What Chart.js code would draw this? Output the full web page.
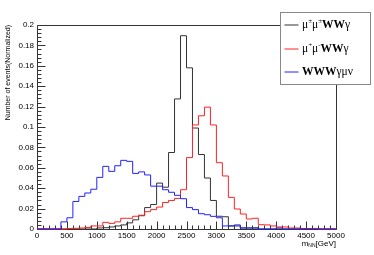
<!DOCTYPE html>
<html>
<head>
<meta charset="utf-8">
<script src="https://cdn.jsdelivr.net/npm/chart.js@4.4.1/dist/chart.umd.min.js"></script>
<style>
  html, body { margin: 0; padding: 0; background: #fff; }
</style>
</head>
<body>
<canvas id="chart" width="374" height="255"></canvas>
<script>
// histogram bins are 100 GeV wide, starting at 0
const BIN_WIDTH = 100;
const xTickValues = [0, 500, 1000, 1500, 2000, 2500, 3000, 3500, 4000, 4500, 5000];

// mu+- mu+- WW gamma
const sameSignWWA = [
    0, 0, 0, 0, 0, 0, 0, 0, 0, 0,
    0.001, 0.0013, 0.002, 0.003, 0.004, 0.006, 0.009, 0.013, 0.021, 0.024,
    0.045, 0.041, 0.075, 0.1275, 0.1895, 0.158, 0.099, 0.073, 0.050, 0.028,
    0.0125, 0.012, 0.003, 0.003, 0.001, 0.001, 0.001, 0, 0, 0,
    0, 0, 0, 0, 0, 0, 0, 0, 0, 0,
];
// mu+ mu- WW gamma
const oppSignWWA = [
    0, 0, 0, 0, 0, 0.0005, 0.0007, 0.001, 0.0015, 0.003,
    0.003, 0.0065, 0.0055, 0.007, 0.0105, 0.0105, 0.0125, 0.0135, 0.017, 0.019,
    0.0215, 0.026, 0.028, 0.030, 0.0385, 0.070, 0.102, 0.111, 0.1195, 0.102,
    0.065, 0.052, 0.031, 0.0196, 0.0147, 0.0098, 0.0105, 0.0042, 0.004, 0.003,
    0.002, 0.002, 0.001, 0.001, 0.0005, 0.0005, 0.0005, 0, 0, 0,
];
// WWW gamma mu nu
const wwwAMuNu = [
    0, 0, 0, 0, 0.007, 0.011, 0.027, 0.032, 0.0353, 0.039,
    0.0506, 0.0614, 0.0565, 0.062, 0.0673, 0.0663, 0.0545, 0.056, 0.053, 0.042,
    0.042, 0.0385, 0.036, 0.033, 0.0297, 0.021, 0.019, 0.015, 0.014, 0.0124,
    0.011, 0.003, 0.003, 0.004, 0.001, 0.001, 0.001, 0, 0, 0,
    0.001, 0, 0, 0, 0, 0, 0, 0, 0, 0,
];

// legend labels as text runs (bold / superscript pieces)
const legendEntries = [
    { color: '#333', runs: [['μ'], ['±', 'sup'], ['μ'], ['±', 'sup'], ['WW', 'bold'], ['γ']] },
    { color: '#f22', runs: [['μ'], ['+', 'sup'], ['μ'], ['-', 'sup'], ['WW', 'bold'], ['γ']] },
    { color: '#22f', runs: [['WWW', 'bold'], ['γμν']] },
];

const X_MINOR = 100, X_MAJOR = 500;
const Y_MINOR = 0.004, Y_MINOR_PER_MAJOR = 5;
const SANS = '"Liberation Sans", Arial, sans-serif';
const SERIF = '"Liberation Serif", "Times New Roman", serif';

function histPoints(values) {
    const pts = values.map((v, i) => ({ x: i * BIN_WIDTH, y: v }));
    pts.push({ x: values.length * BIN_WIDTH, y: values[values.length - 1] });
    return pts;
}

function histDataset(label, values, color, order) {
    return {
        label,
        data: histPoints(values),
        borderColor: color,
        borderWidth: 1,
        stepped: 'before',
        fill: false,
        pointRadius: 0,
        clip: false,
        order,
    };
}

function drawRuns(ctx, runs, x, y, size) {
    ctx.textBaseline = 'middle';
    ctx.textAlign = 'left';
    for (const [text, style] of runs) {
        if (style === 'sup') {
            ctx.font = `${Math.round(size * 0.65)}px ${SERIF}`;
            ctx.fillText(text, x, y - size * 0.35);
        } else {
            ctx.font = `${style === 'bold' ? 'bold ' : ''}${size}px ${SERIF}`;
            ctx.fillText(text, x, y);
        }
        x += ctx.measureText(text).width;
    }
}

// ROOT-like frame with ticks pointing into the pad
const rootFrame = {
    id: 'rootFrame',
    beforeDatasetsDraw(chart) {
        const { ctx, chartArea: a, scales: { x, y } } = chart;
        const L = Math.round(a.left) + 0.5, R = Math.round(a.right) + 0.5;
        const T = Math.round(a.top) + 0.5, B = Math.round(a.bottom) + 0.5;
        ctx.save();
        ctx.strokeStyle = '#333';
        ctx.lineWidth = 1;
        ctx.beginPath();
        ctx.rect(L, T, R - L, B - T);
        for (let v = x.min; v <= x.max + 1e-6; v += X_MINOR) {
            const px = Math.round(x.getPixelForValue(v)) + 0.5;
            const len = Math.round(v) % X_MAJOR === 0 ? 8 : 4;
            ctx.moveTo(px, B);
            ctx.lineTo(px, B - len);
        }
        const nY = Math.round((y.max - y.min) / Y_MINOR);
        for (let i = 0; i <= nY; i++) {
            const py = Math.round(y.getPixelForValue(y.min + i * Y_MINOR)) + 0.5;
            const len = i % Y_MINOR_PER_MAJOR === 0 ? 8 : 4;
            ctx.moveTo(L, py);
            ctx.lineTo(L + len, py);
        }
        ctx.stroke();
        ctx.restore();
    },
    afterDraw(chart) {
        const { ctx, chartArea: a } = chart;
        ctx.save();
        ctx.fillStyle = '#000';

        // x axis title  m_NN [GeV], right aligned to the axis end
        const ty = a.bottom + 15;
        ctx.textBaseline = 'middle';
        ctx.textAlign = 'left';
        ctx.font = `8px ${SANS}`;
        const wM = ctx.measureText('m').width;
        const wG = ctx.measureText('[GeV]').width;
        ctx.font = `5px ${SANS}`;
        const wN = ctx.measureText('NN').width;
        let tx = a.right - (wM + wN + wG);
        ctx.font = `8px ${SANS}`;
        ctx.fillText('m', tx, ty);
        tx += wM;
        ctx.font = `5px ${SANS}`;
        ctx.fillText('NN', tx, ty + 2);
        tx += wN;
        ctx.font = `8px ${SANS}`;
        ctx.fillText('[GeV]', tx, ty);

        // legend box
        const bx = Math.round(a.right) - 55.5, by = Math.round(a.top) - 12.5;
        const bw = 90, bh = 72;
        ctx.fillStyle = '#fff';
        ctx.fillRect(bx, by, bw, bh);
        ctx.strokeStyle = '#888';
        ctx.lineWidth = 1;
        ctx.strokeRect(bx, by, bw, bh);
        const rows = [12.5, 36.5, 59.5];
        legendEntries.forEach((e, i) => {
            const ly = by + rows[i];
            ctx.strokeStyle = e.color;
            ctx.beginPath();
            ctx.moveTo(bx + 4, ly);
            ctx.lineTo(bx + 18, ly);
            ctx.stroke();
            ctx.fillStyle = '#000';
            drawRuns(ctx, e.runs, bx + 21.5, ly, 11.5);
        });
        ctx.restore();
    },
};

new Chart(document.getElementById('chart'), {
    type: 'line',
    data: {
        datasets: [
            histDataset('μ±μ±WWγ', sameSignWWA, '#333', 2),
            histDataset('μ+μ-WWγ', oppSignWWA, '#f22', 1),
            histDataset('WWWγμν', wwwAMuNu, '#22f', 0),
        ],
    },
    options: {
        responsive: false,
        animation: false,
        events: [],
        layout: { padding: { top: 25, right: 38, left: 0, bottom: 0 } },
        plugins: { legend: { display: false }, tooltip: { enabled: false } },
        scales: {
            x: {
                type: 'linear',
                min: 0,
                max: 5000,
                grid: { display: false, drawTicks: false },
                border: { display: false },
                afterBuildTicks: s => { s.ticks = xTickValues.map(v => ({ value: v })); },
                afterFit: s => { s.height = 26; },
                ticks: {
                    autoSkip: false,
                    maxRotation: 0,
                    padding: 2,
                    color: '#000',
                    font: { family: SANS, size: 8 },
                    callback: v => String(v),
                },
            },
            y: {
                type: 'linear',
                min: 0,
                max: 0.2,
                grid: { display: false, drawTicks: false },
                border: { display: false },
                afterFit: s => { s.width = 37; },
                ticks: {
                    stepSize: 0.02,
                    padding: 3,
                    color: '#000',
                    font: { family: SANS, size: 8 },
                    callback: v => String(Number(v.toFixed(3))),
                },
                title: {
                    display: true,
                    text: 'Number of events(Normalized)',
                    align: 'end',
                    color: '#000',
                    font: { family: SANS, size: 7 },
                    padding: { top: 4, bottom: 0 },
                },
            },
        },
    },
    plugins: [rootFrame],
});
</script>
</body>
</html>
